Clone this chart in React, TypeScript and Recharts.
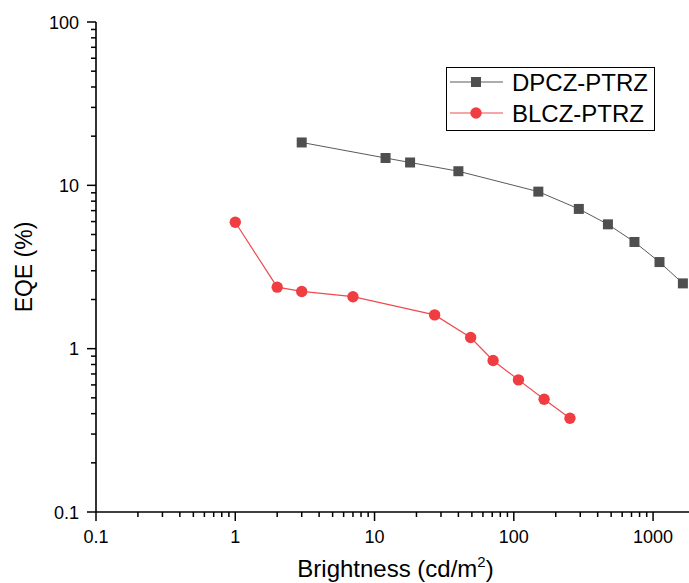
import React from 'react';
import { ScatterChart, Scatter, XAxis, YAxis, Legend, Label } from 'recharts';

// ---------- data ----------
const dpczBrightness = [3, 12, 18, 40, 150, 293, 474, 735, 1112, 1637];
const dpczEqe = [18.3, 14.7, 13.8, 12.2, 9.15, 7.17, 5.77, 4.5, 3.39, 2.51];
const blczBrightness = [1, 2, 3, 7, 27, 49, 71, 108, 165, 253];
const blczEqe = [5.94, 2.38, 2.24, 2.08, 1.61, 1.17, 0.847, 0.644, 0.49, 0.375];

const seriesNames = ['DPCZ-PTRZ', 'BLCZ-PTRZ'];

const xMajorTicks = [0.1, 1, 10, 100, 1000];
const xTickLabels = ['0.1', '1', '10', '100', '1000'];
const yMajorTicks = [0.1, 1, 10, 100];
const yTickLabels = ['0.1', '1', '10', '100'];
const minorMultipliers = [2, 3, 4, 5, 6, 7, 8, 9];
const topLinearTicks = [0, 1, 2, 3, 4, 5, 6, 7, 8, 9, 10];

const xDomain: [number, number] = [0.1, 2000];
const yDomain: [number, number] = [0.1, 100];

// ---------- derived ----------
const dpczData = dpczBrightness.map((x, i) => ({ x, y: dpczEqe[i] }));
const blczData = blczBrightness.map((x, i) => ({ x, y: blczEqe[i] }));

const buildLogTicks = (majors: number[], domain: [number, number]) => {
  const out: number[] = [];
  majors.forEach((m) => {
    out.push(m);
    minorMultipliers.forEach((k) => {
      const v = +(m * k).toPrecision(6);
      if (v <= domain[1] + 1e-9) out.push(v);
    });
  });
  return out.filter((v) => v >= domain[0] - 1e-12 && v <= domain[1] + 1e-9).sort((a, b) => a - b);
};
const xAllTicks = buildLogTicks(xMajorTicks, xDomain);
const yAllTicks = buildLogTicks(yMajorTicks, yDomain);

const FONT = '"Liberation Sans", Arial, Helvetica, sans-serif';
const DARK = '#4f4f4f';
const DARK_LINE = '#5a5a5a';
const RED = '#ef3d42';
const RED_LINE = '#ef4a4f';

const majorIndex = (list: number[], v: number) =>
  list.findIndex((t) => Math.abs(t - v) / t < 1e-6);

// ---------- ticks ----------
const BottomTick = (props: any) => {
  const { x, y, payload } = props;
  const i = majorIndex(xMajorTicks, payload.value);
  const len = i >= 0 ? 9 : 5;
  return (
    <g>
      <line x1={x} y1={y} x2={x} y2={y + len} stroke="#000" strokeWidth={1.5} />
      {i >= 0 && (
        <text x={x} y={y + 31} textAnchor="middle" fontSize={18} fontFamily={FONT} fill="#000">
          {xTickLabels[i]}
        </text>
      )}
    </g>
  );
};

const LeftTick = (props: any) => {
  const { x, y, payload } = props;
  const i = majorIndex(yMajorTicks, payload.value);
  const len = i >= 0 ? 9 : 5;
  return (
    <g>
      <line x1={x - len} y1={y} x2={x} y2={y} stroke="#000" strokeWidth={1.5} />
      {i >= 0 && (
        <text x={x - 17} y={y + 6.5} textAnchor="end" fontSize={18} fontFamily={FONT} fill="#000">
          {yTickLabels[i]}
        </text>
      )}
    </g>
  );
};

const TopLogTick = (props: any) => {
  const { x, y } = props;
  return <line x1={x} y1={y} x2={x} y2={y + 2.5} stroke="#000" strokeWidth={1.2} />;
};

const TopLinTick = (props: any) => {
  const { x, y, payload } = props;
  const len = payload.value % 2 === 0 ? 9 : 5;
  return <line x1={x} y1={y} x2={x} y2={y + len} stroke="#000" strokeWidth={1.5} />;
};

// ---------- markers ----------
const SquareShape = (props: any) => {
  const { cx, cy } = props;
  if (cx == null || cy == null) return null;
  return <rect x={cx - 5} y={cy - 5} width={10} height={10} fill={DARK} />;
};
const CircleShape = (props: any) => {
  const { cx, cy } = props;
  if (cx == null || cy == null) return null;
  return <circle cx={cx} cy={cy} r={5.7} fill={RED} />;
};

// ---------- legend ----------
const LegendBox = () => (
  <svg width={209} height={64} style={{ display: 'block', overflow: 'visible' }}>
    <rect x={0.5} y={0.5} width={208} height={63} fill="#fff" stroke="#000" strokeWidth={1} />
    <line x1={4} y1={15} x2={57} y2={15} stroke={DARK_LINE} strokeWidth={1} />
    <rect x={25} y={10} width={10} height={10} fill={DARK} />
    <text x={66} y={15} dy={8.5} fontSize={24} fontFamily={FONT} fill="#000">
      {seriesNames[0]}
    </text>
    <line x1={4} y1={46} x2={57} y2={46} stroke={RED_LINE} strokeWidth={1} />
    <circle cx={30} cy={46} r={5.7} fill={RED} />
    <text x={66} y={46} dy={8.5} fontSize={24} fontFamily={FONT} fill="#000">
      {seriesNames[1]}
    </text>
  </svg>
);

export default function App() {
  return (
    <div
      style={{
        position: 'absolute',
        left: 0,
        top: 0,
        width: 689,
        height: 583,
        overflow: 'hidden',
        background: '#fff',
      }}
    >
      <ScatterChart width={720} height={583} margin={{ top: 22, right: 25, bottom: 0, left: 0 }}>
        <XAxis
          xAxisId="bottom"
          type="number"
          dataKey="x"
          scale="log"
          domain={xDomain}
          allowDataOverflow
          ticks={xAllTicks}
          interval={0}
          height={71}
          tickSize={0}
          tickMargin={0}
          tickLine={false}
          axisLine={{ stroke: '#000', strokeWidth: 1.6 }}
          tick={<BottomTick />}
        >
          <Label
            content={(p: any) => {
              const vb = p.viewBox || { x: 96, y: 512, width: 599, height: 71 };
              return (
                <text
                  x={vb.x + vb.width / 2}
                  y={vb.y + 65}
                  textAnchor="middle"
                  fontSize={24}
                  fontFamily={FONT}
                  fill="#000"
                >
                  Brightness (cd/m
                  <tspan dy={-10} fontSize={15}>
                    2
                  </tspan>
                  <tspan dy={10}>)</tspan>
                </text>
              );
            }}
          />
        </XAxis>
        <XAxis
          xAxisId="toplog"
          orientation="top"
          type="number"
          dataKey="x"
          scale="log"
          domain={xDomain}
          allowDataOverflow
          ticks={xAllTicks}
          interval={0}
          height={0}
          tickSize={0}
          tickMargin={0}
          tickLine={false}
          axisLine={{ stroke: '#000', strokeWidth: 1.6 }}
          tick={<TopLogTick />}
        />
        <XAxis
          xAxisId="toplin"
          orientation="top"
          type="number"
          domain={[0, 10]}
          allowDataOverflow
          ticks={topLinearTicks}
          interval={0}
          height={0}
          tickSize={0}
          tickMargin={0}
          tickLine={false}
          axisLine={false}
          tick={<TopLinTick />}
        />
        <YAxis
          yAxisId="left"
          type="number"
          dataKey="y"
          scale="log"
          domain={yDomain}
          allowDataOverflow
          ticks={yAllTicks}
          interval={0}
          width={96}
          tickSize={0}
          tickMargin={0}
          tickLine={false}
          axisLine={{ stroke: '#000', strokeWidth: 1.6 }}
          tick={<LeftTick />}
        >
          <Label
            content={(p: any) => {
              const vb = p.viewBox || { x: 0, y: 22, width: 96, height: 490 };
              const cx = 32;
              const cy = vb.y + vb.height / 2;
              return (
                <text
                  x={cx}
                  y={cy}
                  textAnchor="middle"
                  fontSize={23}
                  fontFamily={FONT}
                  fill="#000"
                  transform={`rotate(-90, ${cx}, ${cy})`}
                >
                  EQE (%)
                </text>
              );
            }}
          />
        </YAxis>
        <Legend
          content={() => <LegendBox />}
          wrapperStyle={{
            position: 'absolute',
            left: 446,
            top: 67,
            width: 0,
            height: 0,
            overflow: 'visible',
          }}
        />
        <Scatter
          name={seriesNames[0]}
          data={dpczData}
          xAxisId="bottom"
          yAxisId="left"
          line={{ stroke: DARK_LINE, strokeWidth: 1 }}
          lineType="joint"
          shape={SquareShape}
          isAnimationActive={false}
        />
        <Scatter
          name={seriesNames[1]}
          data={blczData}
          xAxisId="bottom"
          yAxisId="left"
          line={{ stroke: RED_LINE, strokeWidth: 1.2 }}
          lineType="joint"
          shape={CircleShape}
          isAnimationActive={false}
        />
      </ScatterChart>
    </div>
  );
}
